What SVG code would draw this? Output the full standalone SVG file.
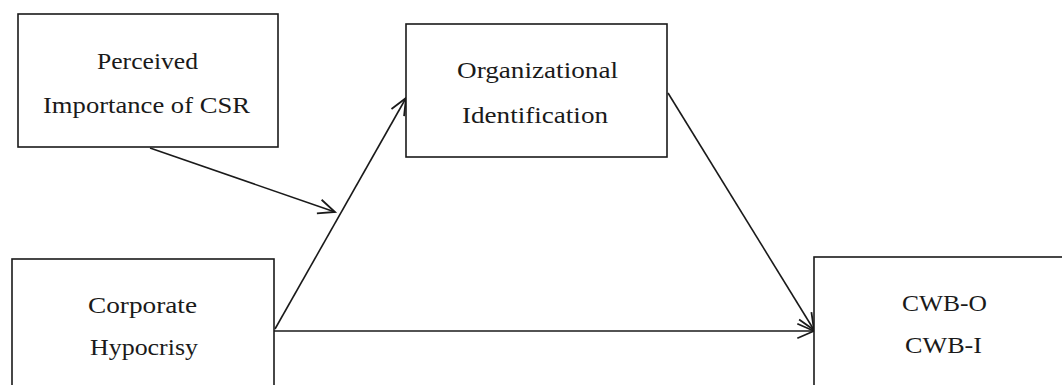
<svg xmlns="http://www.w3.org/2000/svg" width="1062" height="385" viewBox="0 0 1062 385">
<style>
.box{fill:#fff;stroke:#1a1a1a;stroke-width:1.6}
.t{font-family:"Liberation Serif","Times New Roman",serif;font-size:23px;fill:#1a1a1a;text-anchor:middle}
.c{stroke:#1a1a1a;stroke-width:1.6;fill:none;marker-end:url(#ah)}
</style>
<defs>
<marker id="ah" markerUnits="userSpaceOnUse" markerWidth="20" markerHeight="20" viewBox="-16 -8 18 16" refX="0" refY="0" orient="auto">
<path d="M-15,-6.5 L0,0 L-15,6.5" fill="none" stroke="#1a1a1a" stroke-width="1.6"/>
</marker>
</defs>
<rect width="1062" height="385" fill="#fff"/>
<g id="connectors">
<line class="c" x1="150" y1="148" x2="335" y2="212"/>
<line class="c" x1="275" y1="329" x2="406" y2="98"/>
<line class="c" x1="274" y1="331" x2="814" y2="331"/>
<line class="c" x1="668" y1="93" x2="814" y2="330"/>
</g>
<g id="perceived">
<rect class="box" x="18" y="14" width="260" height="133"/>
<text class="t" x="147.5" y="69" textLength="101" lengthAdjust="spacingAndGlyphs">Perceived</text>
<text class="t" x="146.5" y="113" textLength="207" lengthAdjust="spacingAndGlyphs">Importance of CSR</text>
</g>
<g id="organizational">
<rect class="box" x="406" y="24" width="261" height="133"/>
<text class="t" x="537.5" y="78" textLength="161" lengthAdjust="spacingAndGlyphs">Organizational</text>
<text class="t" x="535" y="123" textLength="146" lengthAdjust="spacingAndGlyphs">Identification</text>
</g>
<g id="corporate">
<rect class="box" x="12" y="259" width="262" height="140"/>
<text class="t" x="142.5" y="313" textLength="109" lengthAdjust="spacingAndGlyphs">Corporate</text>
<text class="t" x="144" y="355" textLength="108" lengthAdjust="spacingAndGlyphs">Hypocrisy</text>
</g>
<g id="cwb">
<rect class="box" x="814" y="257" width="260" height="140"/>
<text class="t" x="944.5" y="311" textLength="85" lengthAdjust="spacingAndGlyphs">CWB-O</text>
<text class="t" x="943.5" y="353" textLength="77" lengthAdjust="spacingAndGlyphs">CWB-I</text>
</g>
</svg>
